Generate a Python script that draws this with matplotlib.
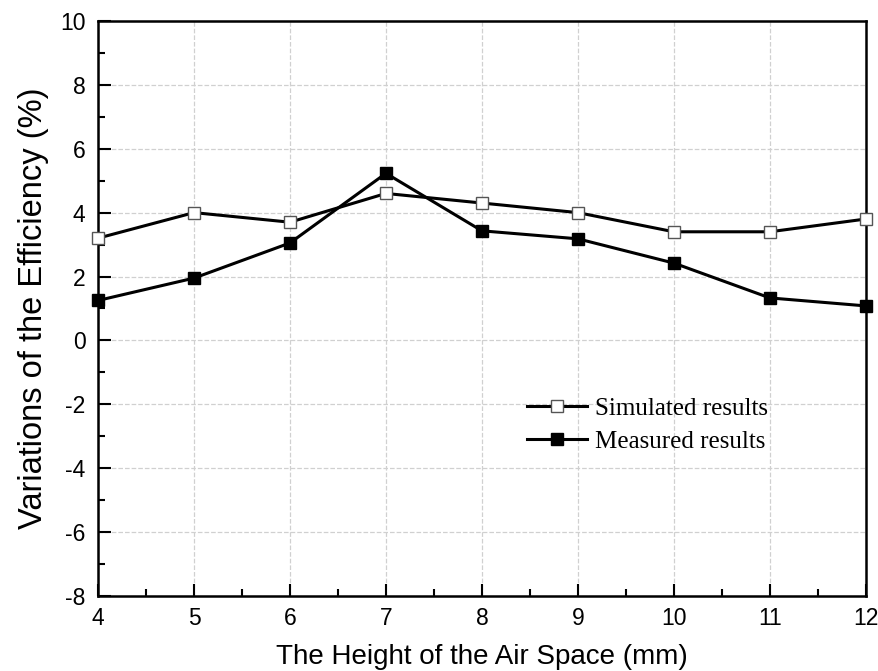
import matplotlib
matplotlib.use("Agg")
import matplotlib.pyplot as plt
from matplotlib.ticker import MultipleLocator

heights = [4, 5, 6, 7, 8, 9, 10, 11, 12]
simulated = [3.2, 4.0, 3.7, 4.6, 4.3, 4.0, 3.4, 3.4, 3.8]
measured = [1.25, 1.95, 3.05, 5.23, 3.43, 3.18, 2.42, 1.33, 1.08]

plt.rcParams['font.family'] = ['Liberation Sans', 'DejaVu Sans']
plt.rcParams['axes.unicode_minus'] = False

fig = plt.figure(figsize=(8.79, 6.71), dpi=100)
ax = fig.add_axes([0.1115, 0.1118, 0.8735, 0.857])

ax.plot(heights, simulated, color='black', lw=2.2, marker='s', ms=9,
        mfc='white', mec='#555555', mew=1.0, label="Simulated results", clip_on=False, zorder=3)
ax.plot(heights, measured, color='black', lw=2.2, marker='s', ms=9,
        mfc='black', mec='black', label="Measured results", clip_on=False, zorder=3)

ax.set_xlim(4, 12)
ax.set_ylim(-8, 10)
ax.xaxis.set_major_locator(MultipleLocator(1))
ax.xaxis.set_minor_locator(MultipleLocator(0.5))
ax.yaxis.set_major_locator(MultipleLocator(2))
ax.yaxis.set_minor_locator(MultipleLocator(1))
ax.tick_params(which='both', direction='in', top=False, right=False, width=1.5, labelsize=16.5)
ax.tick_params(which='major', length=9)
ax.tick_params(which='minor', length=5)
ax.tick_params(axis='x', pad=8)
ax.tick_params(axis='y', pad=9)
for s in ax.spines.values():
    s.set_linewidth(1.8)
ax.grid(True, which='major', ls='--', color='#d0d0d0', lw=0.9)

ax.set_xlabel("The Height of the Air Space (mm)", fontsize=20, labelpad=10)
ax.set_ylabel("Variations of the Efficiency (%)", fontsize=23.5, labelpad=8)

leg = ax.legend(loc='upper left', bbox_to_anchor=(0.53, 0.385), frameon=False,
                prop={'family': 'Liberation Serif', 'size': 18}, handlelength=2.4,
                handletextpad=0.3, labelspacing=0.42)

fig.savefig("out.png", dpi=100)
